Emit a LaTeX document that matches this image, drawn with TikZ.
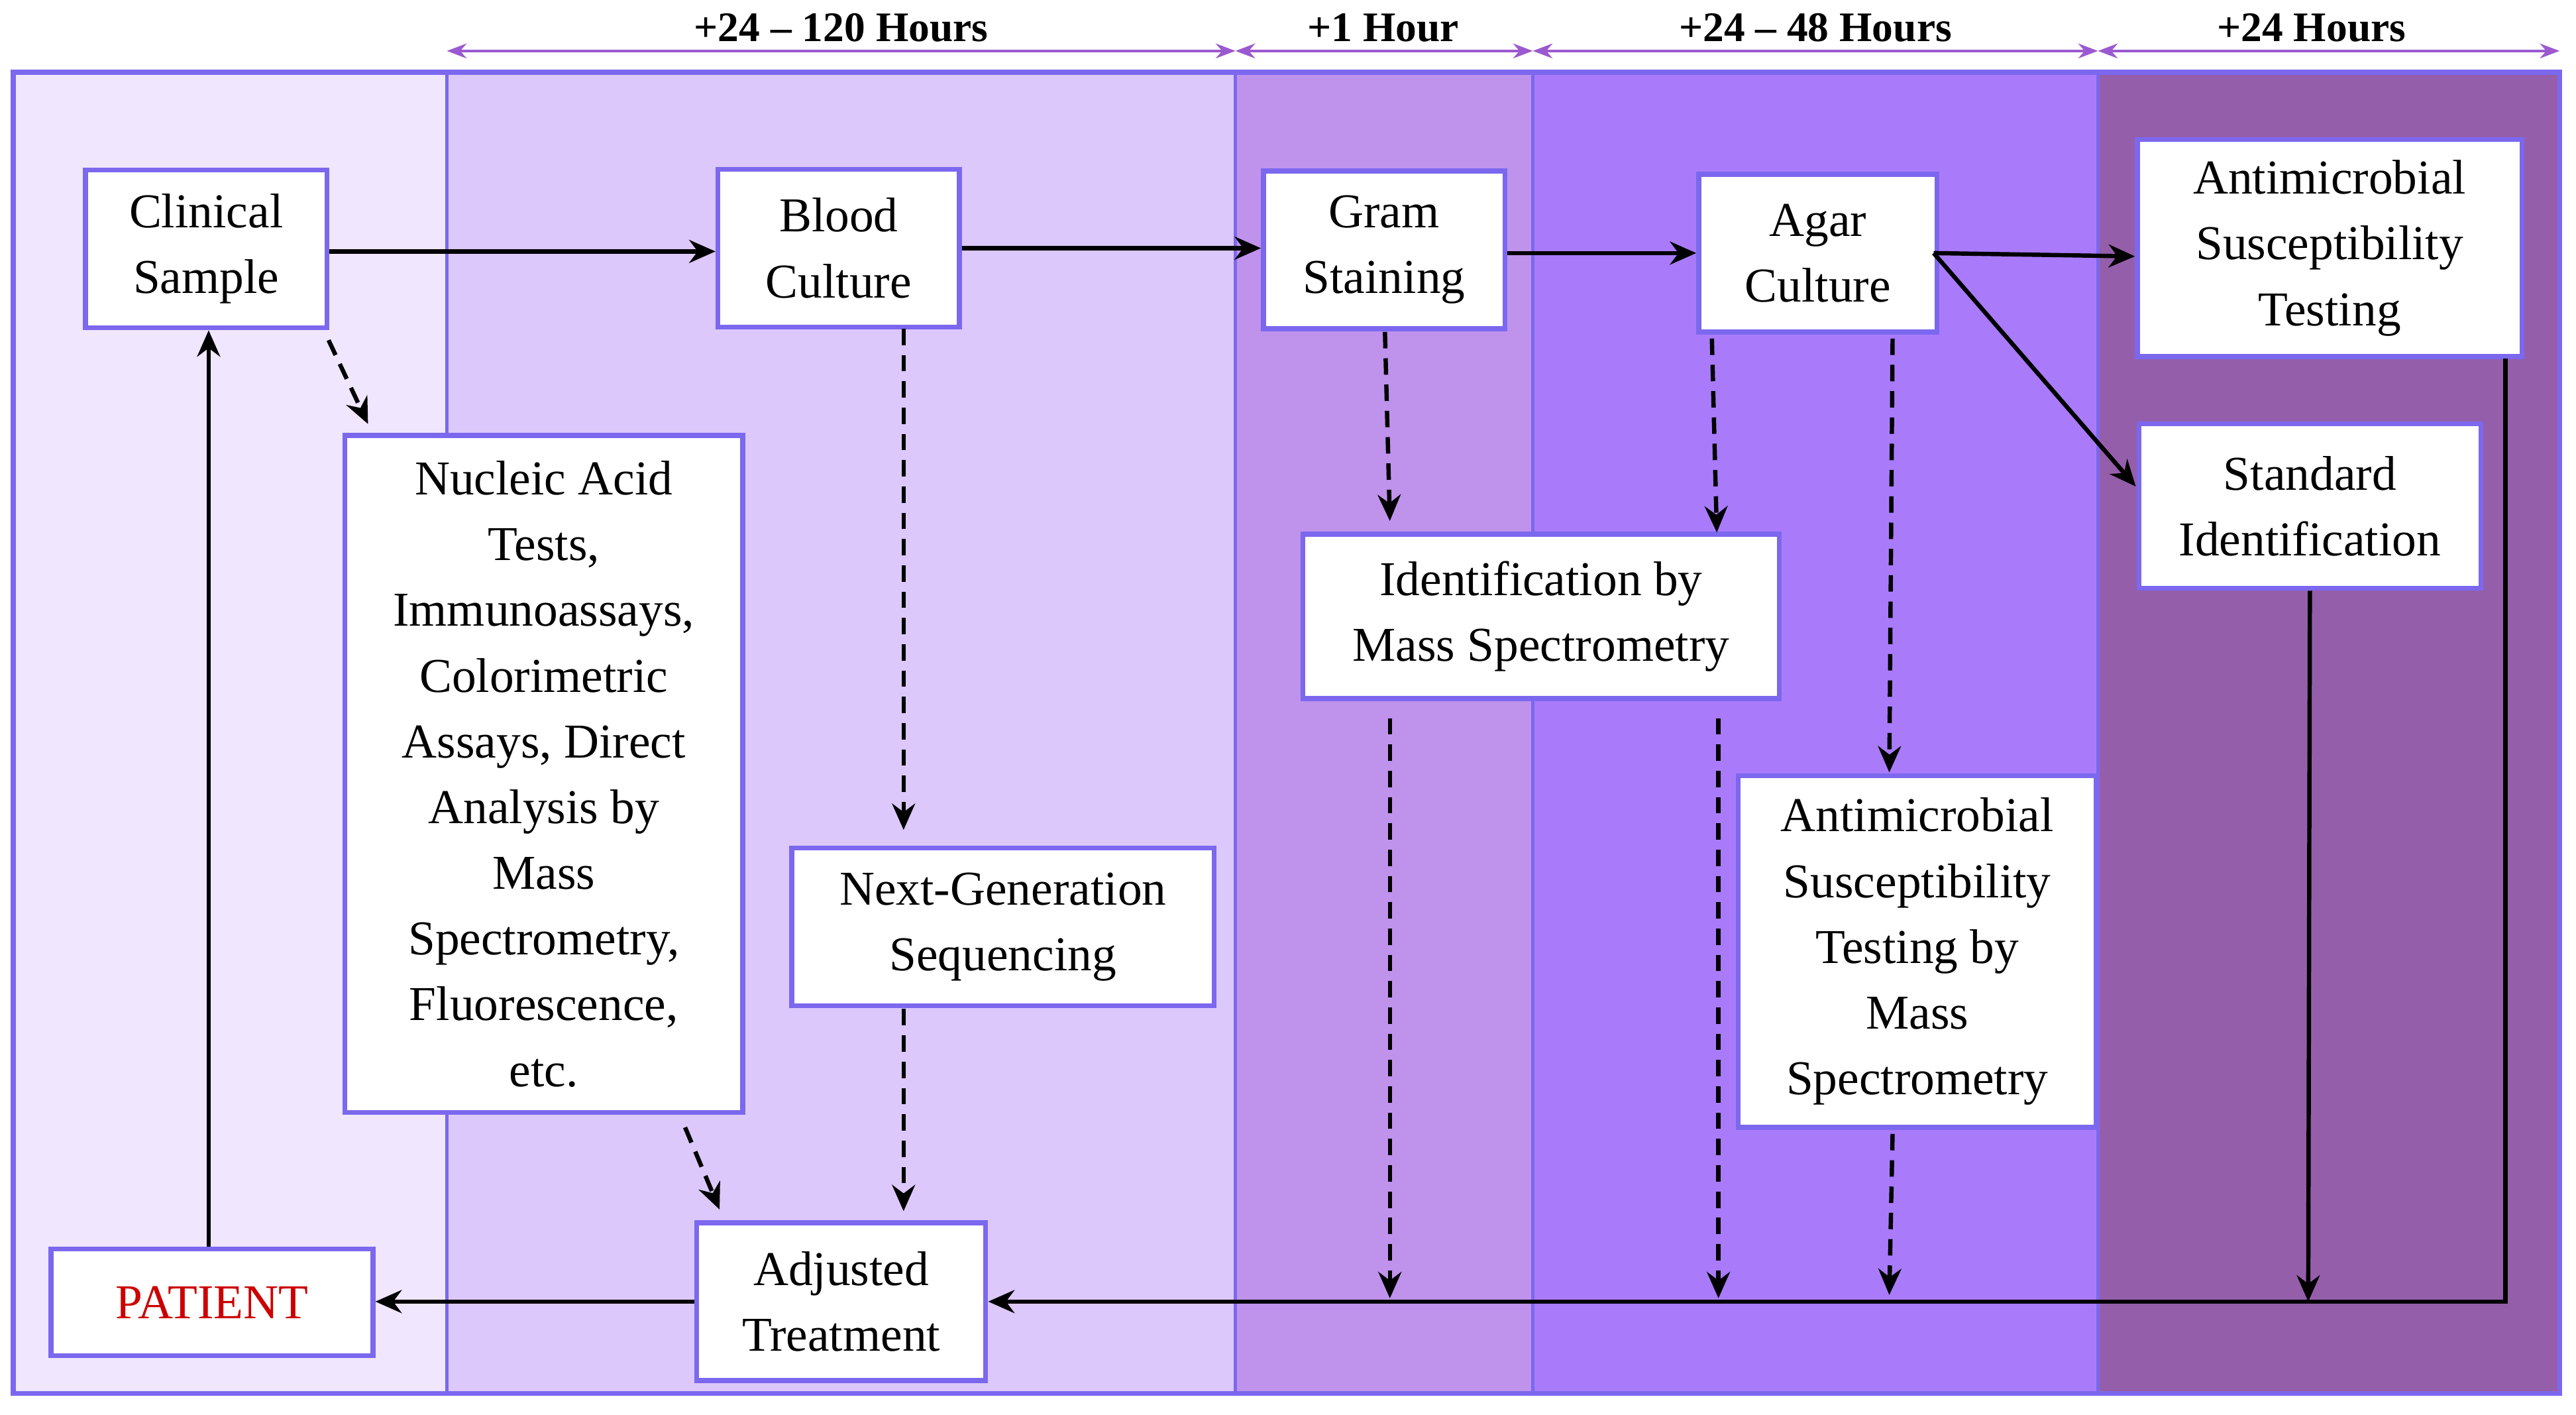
\documentclass[tikz,border=0pt]{standalone}
\usepackage{fontspec}
\setmainfont{Liberation Serif}
\usetikzlibrary{arrows.meta}
\definecolor{bord}{HTML}{7B68EE}
\definecolor{tarr}{HTML}{9B59D0}
\definecolor{c1}{HTML}{F0E6FD}
\definecolor{c2}{HTML}{DCC8FA}
\definecolor{c3}{HTML}{BF92EC}
\definecolor{c4}{HTML}{A97BFA}
\definecolor{c5}{HTML}{955EAA}
\definecolor{pred}{HTML}{CC0000}
\tikzset{
 box/.style={draw=bord,line width=1.5pt,fill=white,align=center,inner sep=0pt,
   font=\fontsize{14.8}{20}\selectfont},
 sol/.style={-{Stealth[length=8pt,width=7pt]},line width=1.3pt},
 dsh/.style={sol,dash pattern=on 5pt off 3pt},
 hdr/.style={{Stealth[length=6pt]}-{Stealth[length=6pt]},tarr,line width=0.8pt},
 band/.style={draw=bord,line width=1pt}
}
\begin{document}
\begin{tikzpicture}[x=0.5pt,y=-0.5pt]
\useasboundingbox (0,0) rectangle (1568,861);
\fill[white] (0,0) rectangle (1568,861);
\filldraw[band,fill=c1] (8,44) rectangle (272,848);
\filldraw[band,fill=c2] (272,44) rectangle (752,848);
\filldraw[band,fill=c3] (752,44) rectangle (933,848);
\filldraw[band,fill=c4] (933,44) rectangle (1277,848);
\filldraw[band,fill=c5] (1277,44) rectangle (1558,848);
\draw[bord,line width=1.5pt] (8,44) rectangle (1558,848);
% header
\coordinate (h0) at (272,31); \coordinate (h1) at (752,31);
\coordinate (h2) at (933,31); \coordinate (h3) at (1277,31); \coordinate (h4) at (1558,31);
\draw[hdr] (h0)--(h1); \draw[hdr] (h1)--(h2); \draw[hdr] (h2)--(h3); \draw[hdr] (h3)--(h4);
\tikzset{ht/.style={fill=white,inner sep=2pt,font=\fontsize{12.8}{14}\selectfont\bfseries}}
\node[ht] (t1) at (512,17) {+24 -- 120 Hours};
\node[ht] (t2) at (842,17) {+1 Hour};
\node[ht] (t3) at (1105,17) {+24 -- 48 Hours};
\node[ht] (t4) at (1407,17) {+24 Hours};
% nodes
\node[box,minimum width=147pt/2,minimum height=96pt/2] (cs) at (125.5,151.5) {Clinical\\Sample};
\node[box,minimum width=147pt/2,minimum height=96pt/2] (bc) at (510.5,151) {Blood\\Culture};
\node[box,minimum width=147pt/2,minimum height=96pt/2] (gs) at (842.5,152) {Gram\\Staining};
\node[box,minimum width=145pt/2,minimum height=96pt/2] (ac) at (1106.5,154) {Agar\\Culture};
\node[box,minimum width=234pt/2,minimum height=132pt/2] (ast) at (1418,151) {Antimicrobial\\Susceptibility\\Testing};
\node[box,minimum width=208pt/2,minimum height=100pt/2] (sid) at (1406,308) {Standard\\Identification};
\node[box,minimum width=242pt/2,minimum height=412pt/2] (nat) at (331,471) {Nucleic Acid\\Tests,\\Immunoassays,\\Colorimetric\\Assays, Direct\\Analysis by\\Mass\\Spectrometry,\\Fluorescence,\\etc.};
\node[box,minimum width=257pt/2,minimum height=96pt/2] (ngs) at (610.5,564) {Next-Generation\\Sequencing};
\node[box,minimum width=290pt/2,minimum height=100pt/2] (ims) at (938,375) {Identification by\\Mass Spectrometry};
\node[box,minimum width=218pt/2,minimum height=214pt/2] (astms) at (1167,579) {Antimicrobial\\Susceptibility\\Testing by\\Mass\\Spectrometry};
\node[box,minimum width=176pt/2,minimum height=96pt/2] (adj) at (512,792) {Adjusted\\Treatment};
\node[box,minimum width=196pt/2,minimum height=65pt/2,text=pred] (pat) at (129,792.5) {PATIENT};
% solid edges
\draw[sol] (cs.east|-0,153) -- (bc.west|-0,153);
\draw[sol] (bc.east|-0,151) -- (gs.west|-0,151);
\draw[sol] (gs.east|-0,154) -- (ac.west|-0,154);
\coordinate (acr) at (1177,154);
\draw[sol] (acr) -- (ast.west|-0,156);
\draw[sol] (acr) -- (1300,296);
\draw[sol] (sid.south) -- (1405,792);
\coordinate (bl) at (1525,792);
\draw[sol] (1525,218) -- (bl) -- (adj.east|-bl);
\draw[sol] (adj.west|-0,792) -- (pat.east|-0,792);
\draw[sol] (pat.north-|127,0) -- (cs.south-|127,0);
% dashed
\draw[dsh] (200,207) -- (224,258);
\draw[dsh] (550,200) -- (550,505);
\draw[dsh] (843,202) -- (846,317);
\draw[dsh] (1042,206) -- (1045,324);
\draw[dsh] (1152,206) -- (1150,470);
\draw[dsh] (417,686) -- (438,736);
\draw[dsh] (550,614) -- (550,737);
\draw[dsh] (846,437) -- (846,790);
\draw[dsh] (1046,437) -- (1046,790);
\draw[dsh] (1152,690) -- (1150,788);
\end{tikzpicture}
\end{document}
